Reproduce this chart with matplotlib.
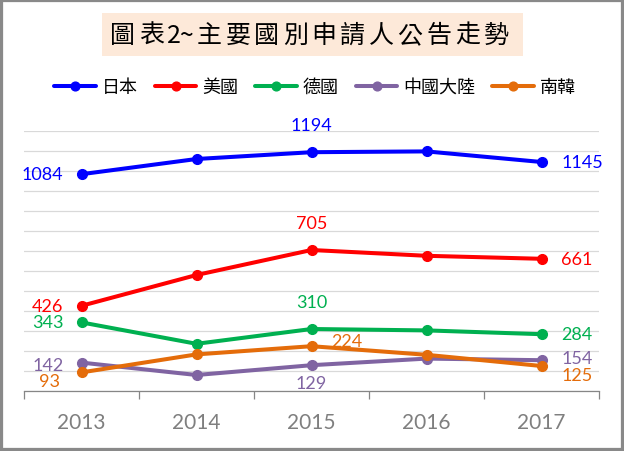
import matplotlib
matplotlib.use("Agg")
import matplotlib.pyplot as plt
from matplotlib.patches import Rectangle

plt.rcParams['font.family'] = ['Noto Sans CJK TC', 'DejaVu Sans']

# ---- data ----
years = ['2013', '2014', '2015', '2016', '2017']
series_names = ['日本', '美國', '德國', '中國大陸', '南韓']
japan = [1084, 1160, 1194, 1198, 1145]
usa = [426, 580, 705, 676, 661]
germany = [343, 236, 310, 303, 284]
china = [142, 80, 129, 162, 154]
korea = [93, 183, 224, 181, 125]

title_chars = ['圖', '表', '2~', '主', '要', '國', '別', '申', '請', '人', '公', '告', '走', '勢']

colors = ['#0000FF', '#FF0000', '#00B050', '#8064A2', '#E46C0A']
values = [japan, usa, germany, china, korea]

# which points get a label, and where (offset in pixels, alignment)
labels = [
    (japan, 0, (-18, 0), 'right'), (japan, 2, (0, 27), 'center'), (japan, 4, (20, 0), 'left'),
    (usa, 0, (-18, 0), 'right'), (usa, 2, (0, 27), 'center'), (usa, 4, (20, 0), 'left'),
    (germany, 0, (-18, 0), 'right'), (germany, 2, (0, 27), 'center'), (germany, 4, (20, 0), 'left'),
    (china, 0, (-18, -2), 'right'), (china, 2, (0, -18), 'center'), (china, 4, (20, 2), 'left'),
    (korea, 0, (-22, -9), 'right'), (korea, 2, (20, 5), 'left'), (korea, 4, (20, -9), 'left'),
]

W, H = 624, 452
fig = plt.figure(figsize=(W / 100, H / 100), dpi=100)

# outer gray frame
fig.patches.append(Rectangle((0, 0), 1, 1, transform=fig.transFigure,
                             fill=False, edgecolor='#898989', linewidth=4.5))

# title box
fig.patches.append(Rectangle((102 / W, 1 - 57 / H), 421 / W, 43 / H,
                             transform=fig.transFigure, facecolor='#FDE9D9',
                             edgecolor='none'))
for i, ch in enumerate(title_chars):
    fig.text((123 + i * 28.7) / W, 1 - 36 / H, ch, ha='center', va='center',
             fontsize=18, color='black')

ax = fig.add_axes([24 / W, 60 / H, 575 / W, 260 / H])
x = list(range(len(years)))

for name, vals, c in zip(series_names, values, colors):
    ax.plot(x, vals, color=c, linewidth=2.9, marker='o', markersize=7,
            label=name, solid_capstyle='round')

for vals, i, off, ha in labels:
    c = colors[values.index(vals)]
    ax.annotate(str(vals[i]), (x[i], vals[i]), xytext=off,
                textcoords='offset pixels', ha=ha, va='center',
                fontsize=13, color=c, family='Lato')

ax.set_xlim(-0.5, len(years) - 0.5)
ax.set_ylim(0, 1300)
ax.set_yticks(range(0, 1400, 100))
ax.yaxis.grid(True, color='#D9D9D9', linewidth=0.9)
ax.set_axisbelow(True)
ax.tick_params(axis='y', left=False, labelleft=False)

ax.set_xticks(x)
ax.set_xticklabels(years, family='Lato', fontsize=15, color='#7F7F7F')
ax.set_xticks([i - 0.5 for i in range(len(years) + 1)], minor=True)
ax.tick_params(axis='x', which='major', length=0, pad=15)
ax.tick_params(axis='x', which='minor', length=5.5, color='#868686', width=0.9)

for s in ['top', 'left', 'right']:
    ax.spines[s].set_visible(False)
ax.spines['bottom'].set_color('#868686')
ax.spines['bottom'].set_linewidth(0.9)

fig.legend(loc='center', bbox_to_anchor=(315 / W, 1 - 88 / H), ncol=5,
           frameon=False, fontsize=13, handlelength=2.3, handletextpad=0.32,
           columnspacing=0.95, markerscale=0.9)

fig.savefig('out.png', dpi=100)
